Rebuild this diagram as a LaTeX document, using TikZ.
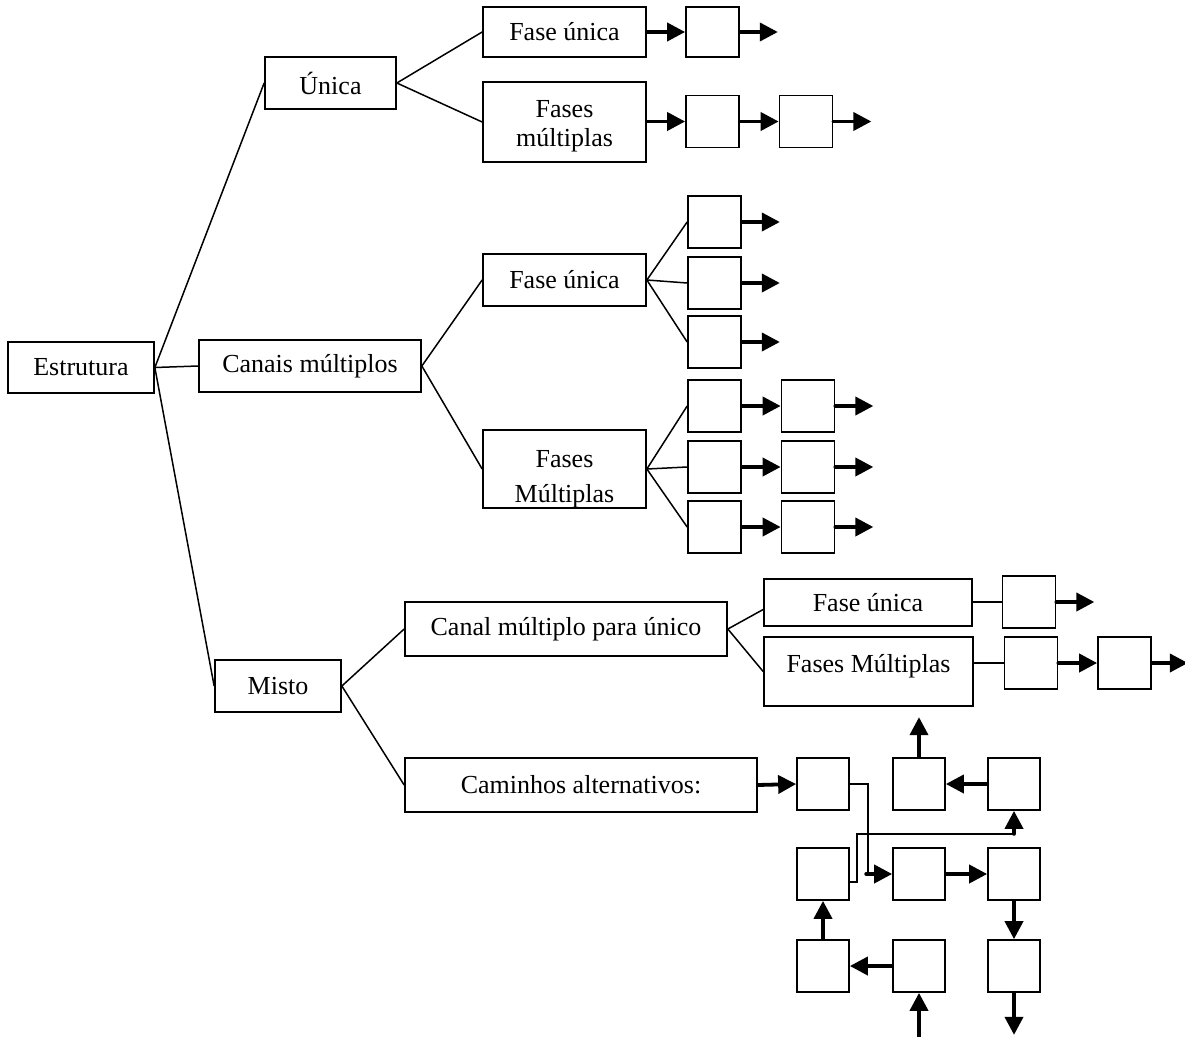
\documentclass[tikz,border=0pt]{standalone}
\usepackage{fontspec}
\setmainfont{Liberation Serif}
\usetikzlibrary{arrows.meta}
\tikzset{
  box/.style={draw, line width=1.7pt, inner sep=0pt, align=center},
  cell/.style={draw, line width=1.7pt, inner sep=0pt, minimum width=53pt, minimum height=52pt},
  link/.style={line width=1.5pt},
  flow/.style={line width=3.8pt, line cap=round, -{Triangle[length=18pt,width=18pt]}},
}

\begin{document}
\begin{tikzpicture}[x=1pt, y=-1pt, font=\fontsize{26}{29}\selectfont]
    \useasboundingbox (0,0) rectangle (1185,1036);
    \node[box, minimum width=146pt, minimum height=51pt] (n-est) at (81,367.5) {Estrutura};
    \node[box, minimum width=131pt, minimum height=52pt] (n-uni) at (330.5,83) {Única};
    \node[box, minimum width=222pt, minimum height=52pt] (n-can) at (310,366) {Canais múltiplos};
    \node[box, minimum width=126pt, minimum height=52pt] (n-mis) at (278,686) {Misto};
    \foreach \b in {uni,can,mis} {
        \draw[link] (n-est.east) -- (n-\b.west);
    }
    % única
    \node[box, minimum width=163pt, minimum height=50pt] (n-uni-1) at (564.5,32) {Fase única};
    \node[box, minimum width=163pt, minimum height=80pt] (n-uni-2) at (564.5,122) {};
    \node[align=center] (t-uni-2) at (564.5,126) {Fases\\múltiplas};
    \draw[link] (n-uni.east) -- (n-uni-1.west);
    \draw[link] (n-uni.east) -- (n-uni-2.west);
    \node[cell, minimum height=50pt] (c-uni-1-1) at (712.5,32) {};
    \node[cell] (c-uni-2-1) at (712.5,121.5) {};
    \node[cell] (c-uni-2-2) at (806,121.5) {};
    \draw[flow] (n-uni-1.east) -- (c-uni-1-1.west);
    \draw[flow] (c-uni-1-1.east) -- ++(38,0);
    \draw[flow] (n-uni-2.east |- c-uni-2-1.west) -- (c-uni-2-1.west);
    \draw[flow] (c-uni-2-1.east) -- (c-uni-2-2.west);
    \draw[flow] (c-uni-2-2.east) -- ++(38,0);
    % canais múltiplos
    \node[box, minimum width=163pt, minimum height=52pt] (n-can-1) at (564.5,280) {Fase única};
    \node[box, minimum width=163pt, minimum height=78pt] (n-can-2) at (564.5,469) {};
    \node[align=center] (t-can-2) at (564.5,479) {Fases\\[6pt]Múltiplas};
    \draw[link] (n-can.east) -- (n-can-1.west);
    \draw[link] (n-can.east) -- (n-can-2.west);
    \foreach[count=\j] \y in {222,283,342} {
        \node[cell] (c-can-1-\j) at (714.5,\y) {};
        \draw[link] (n-can-1.east) -- (c-can-1-\j.west);
        \draw[flow] (c-can-1-\j.east) -- ++(38,0);
    }
    \foreach[count=\j] \y in {406,467,527} {
        \node[cell] (c-can-2-\j) at (714.5,\y) {};
        \node[cell] (d-can-2-\j) at (808,\y) {};
        \draw[link] (n-can-2.east) -- (c-can-2-\j.west);
        \draw[flow] (c-can-2-\j.east) -- (d-can-2-\j.west);
        \draw[flow] (d-can-2-\j.east) -- ++(38,0);
    }
    % misto
    \node[box, minimum width=322pt, minimum height=54pt] (n-mis-1) at (566,629) {Canal múltiplo para único};
    \node[box, minimum width=352pt, minimum height=54pt] (n-mis-2) at (581,785) {Caminhos alternativos:};
    \draw[link] (n-mis.east) -- (n-mis-1.west);
    \draw[link] (n-mis.east) -- (n-mis-2.west);
    \node[box, minimum width=208pt, minimum height=47pt] (n-mis-1-1) at (868,602.5) {Fase única};
    \node[box, minimum width=209pt, minimum height=69pt] (n-mis-1-2) at (868.5,671.5) {};
    \node (t-mis-1-2) at (868.5,666) {Fases Múltiplas};
    \draw[link] (n-mis-1.east) -- ([yshift=-7pt]n-mis-1-1.west);
    \draw[link] (n-mis-1.east) -- (n-mis-1-2.west);
    \node[cell] (c-mis-1-1) at (1029,602) {};
    \node[cell] (c-mis-2-1) at (1031,663) {};
    \node[cell] (c-mis-2-2) at (1124.5,663) {};
    \draw[link] (n-mis-1-1.east |- c-mis-1-1.west) -- (c-mis-1-1.west);
    \draw[flow] (c-mis-1-1.east) -- ++(38,0);
    \draw[link] (n-mis-1-2.east |- c-mis-2-1.west) -- (c-mis-2-1.west);
    \draw[flow] (c-mis-2-1.east) -- (c-mis-2-2.west);
    \draw[flow] (c-mis-2-2.east) -- ++(36,0);
    % caminhos alternativos
    \foreach[count=\i] \y in {784,874,966} {
        \foreach[count=\j] \x in {823,919,1014} {
            \node[cell, minimum width=52pt] (g-\i-\j) at (\x,\y) {};
        }
    }
    \draw[flow] (n-mis-2.east) -- (g-1-1.west);
    \draw[flow] (g-1-2.north) -- ++(0,-40);
    \draw[flow] (g-1-3.west) -- (g-1-2.east);
    \draw[link] (g-1-1.east) -- ++(18,0) |- ([xshift=-26pt]g-2-2.west) coordinate (k-1);
    \draw[flow] (k-1) -- (g-2-2.west);
    \draw[link] ([yshift=-8pt]g-2-1.east) -- ++(7,0) |- ([yshift=-23pt]g-1-3.south) coordinate (k-2);
    \draw[flow] (k-2) -- (g-1-3.south);
    \draw[flow] (g-2-2.east) -- (g-2-3.west);
    \draw[flow] (g-2-3.south) -- (g-3-3.north);
    \draw[flow] (g-3-3.south) -- ++(0,42);
    \draw[flow] (g-3-2.west) -- (g-3-1.east);
    \draw[flow] ([yshift=-44pt]g-3-2.south) -- (g-3-2.south);
    \draw[flow] (g-3-1.north) -- (g-2-1.south);
\end{tikzpicture}
\end{document}
